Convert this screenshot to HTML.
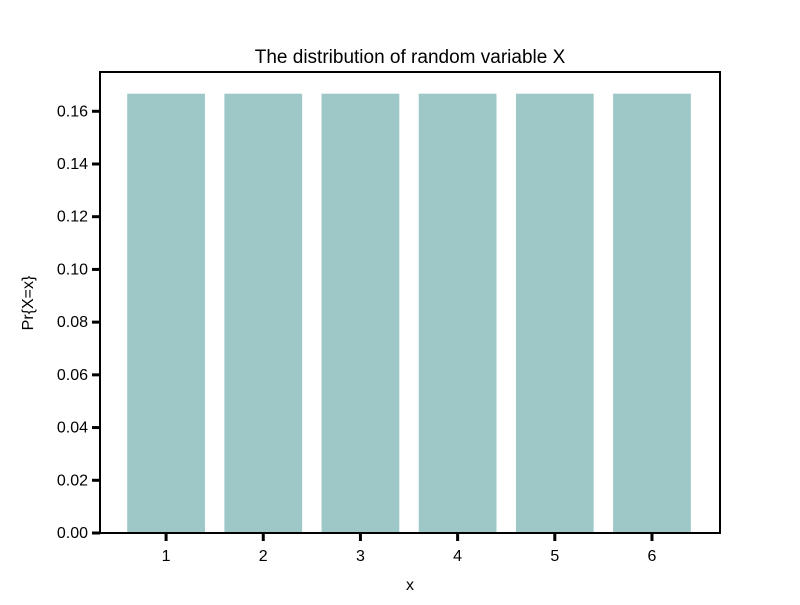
<!DOCTYPE html>
<html><head><meta charset="utf-8"><style>
body{margin:0;background:#fff;}
svg text{font-family:"Liberation Sans",sans-serif;fill:#000;}
</style></head><body>
<svg id="chart" width="800" height="600">
<text x="410" y="63" font-size="19" text-anchor="middle">The distribution of random variable X</text>
<text x="410" y="590" font-size="16" text-anchor="middle">x</text>
<text x="0" y="0" font-size="16" text-anchor="middle" transform="translate(33,303) rotate(-90)">Pr{X=x}</text>
<g id="bars"></g>
<g id="axes"></g>
</svg>
<script>
const categories=[1,2,3,4,5,6];
const values=[1/6,1/6,1/6,1/6,1/6,1/6];
const yTicks=[0,0.02,0.04,0.06,0.08,0.10,0.12,0.14,0.16];
const yTickLabels=["0.00","0.02","0.04","0.06","0.08","0.10","0.12","0.14","0.16"];
const L=100,R=720,T=72,B=533,xMin=0.32,xMax=6.7,yMax=0.1749;
const xs=v=>L+(v-xMin)/(xMax-xMin)*(R-L);
const ys=v=>B-v/yMax*(B-T);
const NS="http://www.w3.org/2000/svg";
const bars=document.getElementById('bars'),axes=document.getElementById('axes');
function mk(tag,attrs,parent){const e=document.createElementNS(NS,tag);for(const k in attrs)e.setAttribute(k,attrs[k]);parent.appendChild(e);return e;}
categories.forEach((c,i)=>{
  const x0=xs(c-0.4),x1=xs(c+0.4),y0=ys(values[i]);
  const r=mk('rect',{x:x0,y:y0,width:x1-x0,height:B-y0,fill:'#9ec7c7'},bars);
  
  
  const t=mk('line',{x1:xs(c),x2:xs(c),y1:B,y2:B+8,stroke:'#000','stroke-width':3},axes);
  
  
  const l=mk('text',{x:xs(c),y:B+28,'font-size':16,'text-anchor':'middle'},axes);
  l.textContent=c;
  
  
});
yTicks.forEach((v,i)=>{
  const t=mk('line',{x1:L-8,x2:L,y1:ys(v),y2:ys(v),stroke:'#000','stroke-width':3},axes);
  
  
  const l=mk('text',{x:L-12,y:ys(v)+5,'font-size':16,'text-anchor':'end'},axes);
  l.textContent=yTickLabels[i];
  
  
});
const f=mk('rect',{x:L,y:T,width:R-L,height:B-T,fill:'none',stroke:'#000','stroke-width':2},axes);


</script>
</body></html>
